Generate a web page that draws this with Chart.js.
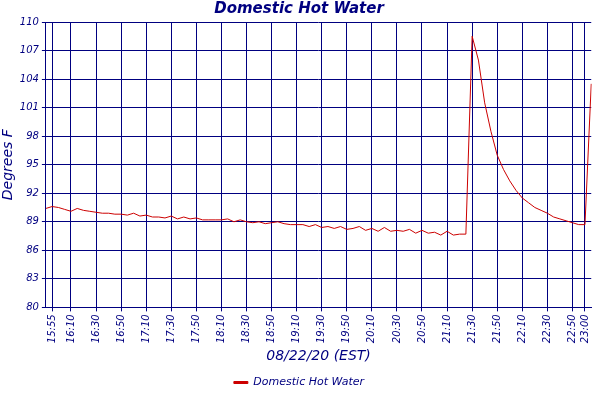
<!DOCTYPE html>
<html>
<head>
<script src="https://cdn.jsdelivr.net/npm/chart.js@4"></script>
<style>
	body { margin: 0; background: #fff; }
</style>
</head>
<body>
<canvas id="chartLine" width="600" height="400"></canvas>
<script>
// times every 5 minutes, 15:50 .. 23:05
const times = [];
for (let m = 15 * 60 + 50; m <= 23 * 60 + 5; m += 5) {
	times.push(Math.floor(m / 60) + ':' + String(m % 60).padStart(2, '0'));
}
const shownTimes = ['15:55', '16:10', '16:30', '16:50', '17:10', '17:30', '17:50', '18:10', '18:30', '18:50',
	'19:10', '19:30', '19:50', '20:10', '20:30', '20:50', '21:10', '21:30', '21:50', '22:10', '22:30', '22:50', '23:00'];
const yTicks = [80, 83, 86, 89, 92, 95, 98, 101, 104, 107, 110];
const hotWater = [
	90.4, 90.6, 90.5, 90.3, 90.1, 90.4, 90.2, 90.1, 90.0, 89.9, 89.9,
	89.8, 89.8, 89.7, 89.9, 89.6, 89.7, 89.5, 89.5, 89.4, 89.6,
	89.3, 89.5, 89.3, 89.4, 89.2, 89.2, 89.2, 89.2, 89.3, 89.0,
	89.2, 89.0, 88.9, 89.0, 88.8, 88.9, 89.0, 88.8, 88.7, 88.7,
	88.7, 88.5, 88.7, 88.4, 88.5, 88.3, 88.5, 88.2, 88.3, 88.5,
	88.1, 88.3, 88.0, 88.4, 88.0, 88.1, 88.0, 88.2, 87.8, 88.1,
	87.8, 87.9, 87.6, 88.0, 87.6, 87.7, 87.7, 108.5,
	106.0, 101.5, 98.5, 96.0, 94.5, 93.3, 92.3, 91.5, 91.0, 90.5,
	90.2, 89.9, 89.5, 89.3, 89.1, 88.9, 88.7, 88.7, 103.5
];

const navy = '#000080';
const font = { family: 'DejaVu Sans', style: 'italic', size: 10 };

new Chart(document.getElementById('chartLine'), {
	type: 'line',
	data: {
		labels: times,
		datasets: [{
			label: 'Domestic Hot Water',
			data: hotWater,
			borderColor: '#cc0000',
			backgroundColor: '#cc0000',
			borderWidth: 1,
			pointRadius: 0,
			tension: 0,
		}],
	},
	options: {
		responsive: false,
		animation: false,
		layout: { padding: { right: 2, top: 0, bottom: 2 } },
		plugins: {
			title: {
				display: true,
				text: 'Domestic Hot Water',
				color: navy,
				font: { family: 'DejaVu Sans', style: 'italic', weight: 'bold', size: 15 },
				padding: { top: 0, bottom: 4 },
			},
			legend: {
				position: 'bottom',
				labels: { color: navy, font: { family: 'DejaVu Sans', style: 'italic', size: 11 }, boxWidth: 14, boxHeight: 2 },
			},
		},
		scales: {
			x: {
				offset: false,
				afterBuildTicks: (axis) => {
					axis.ticks = axis.ticks.filter(t => shownTimes.includes(times[t.value]));
				},
				ticks: { autoSkip: false, maxRotation: 90, minRotation: 90, color: navy, font: font },
				grid: { color: navy, lineWidth: 1, drawTicks: true, tickLength: 4 },
				border: { color: navy },
				title: { display: true, text: '08/22/20 (EST)', color: navy, font: { family: 'DejaVu Sans', style: 'italic', size: 14 }, padding: 2 },
			},
			y: {
				min: 80,
				max: 110,
				afterBuildTicks: (axis) => { axis.ticks = yTicks.map(v => ({ value: v })); },
				ticks: { autoSkip: false, color: navy, font: font },
				grid: { color: navy, lineWidth: 1, tickLength: 4 },
				border: { color: navy },
				title: { display: true, text: 'Degrees F', color: navy, font: { family: 'DejaVu Sans', style: 'italic', size: 14 }, padding: 0 },
			},
		},
	},
});
</script>
</body>
</html>
